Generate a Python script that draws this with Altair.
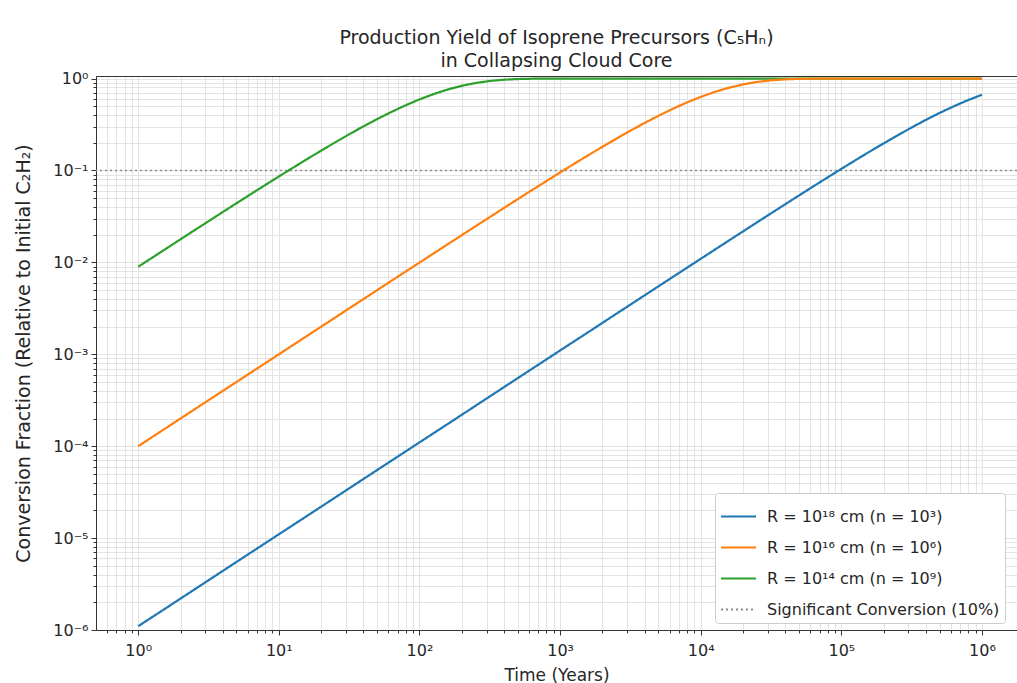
import altair as alt
import pandas as pd

# ---- data ----
time_years = [1, 1.585, 2.512, 3.981, 6.310, 10, 15.85, 25.12, 39.81, 63.10,
              100, 158.5, 251.2, 398.1, 631.0, 1000, 1585, 2512, 3981, 6310,
              10000, 15850, 25120, 39810, 63100, 100000, 158500, 251200, 398100, 631000,
              1000000]

yield_r18 = [1.1e-6, 1.74e-6, 2.76e-6, 4.38e-6, 6.94e-6, 1.1e-5, 1.74e-5, 2.76e-5, 4.38e-5, 6.94e-5,
             1.1e-4, 1.74e-4, 2.76e-4, 4.38e-4, 6.94e-4, 1.10e-3, 1.74e-3, 2.76e-3, 4.37e-3, 6.92e-3,
             0.01094, 0.01728, 0.02725, 0.04285, 0.0671, 0.1042, 0.160, 0.241, 0.355, 0.500,
             0.667]
yield_r16 = [1.0e-4, 1.585e-4, 2.512e-4, 3.981e-4, 6.31e-4, 9.99e-4, 1.584e-3, 2.509e-3, 3.973e-3, 6.29e-3,
             0.00995, 0.01572, 0.02481, 0.03903, 0.06115, 0.0952, 0.1466, 0.2221, 0.3284, 0.4679,
             0.6321, 0.7950, 0.9189, 0.9813, 0.9982, 0.99995, 1.0, 1.0, 1.0, 1.0,
             1.0]
yield_r14 = [0.00896, 0.01416, 0.02236, 0.0352, 0.0552, 0.0861, 0.1329, 0.2023, 0.3011, 0.4333,
             0.5934, 0.7597, 0.8957, 0.9722, 0.9966, 0.99988, 1.0, 1.0, 1.0, 1.0,
             1.0, 1.0, 1.0, 1.0, 1.0, 1.0, 1.0, 1.0, 1.0, 1.0,
             1.0]

# extra readings along the bends of each curve
bend_t_r18 = [125893, 199526, 316228, 501187, 794328]
bend_y_r18 = [0.1293, 0.1971, 0.2938, 0.4238, 0.5826]
bend_t_r16 = [3162, 5012, 7943, 12589, 19953, 31623, 50119, 79433]
bend_y_r16 = [0.2711, 0.3942, 0.5481, 0.7160, 0.8640, 0.9577, 0.9933, 0.99965]
bend_t_r14 = [31.62, 50.12, 79.43, 125.9, 199.5, 316.2, 501.2, 794.3]
bend_y_r14 = [0.2477, 0.3631, 0.5108, 0.6779, 0.8340, 0.9419, 0.9890, 0.9992]

series_names = ["R = 10¹⁸ cm (n = 10³)", "R = 10¹⁶ cm (n = 10⁶)", "R = 10¹⁴ cm (n = 10⁹)"]
threshold_name = "Significant Conversion (10%)"
threshold_value = [0.1]

series_colors = ["#1f77b4", "#ff7f0e", "#2ca02c"]
threshold_color = "#8c8c8c"

x_major = [1, 10, 100, 1000, 10000, 100000, 1000000]
x_labels = ["10⁰", "10¹", "10²", "10³", "10⁴", "10⁵", "10⁶"]
y_major = [1e-6, 1e-5, 1e-4, 1e-3, 1e-2, 1e-1, 1]
y_labels = ["10⁻⁶", "10⁻⁵", "10⁻⁴", "10⁻³", "10⁻²", "10⁻¹", "10⁰"]

x_domain = [0.5012, 1.774e6]
y_domain = [1e-6, 1.067]

# ---- build tables ----
rows = []
series_data = [
    (yield_r18, bend_t_r18, bend_y_r18),
    (yield_r16, bend_t_r16, bend_y_r16),
    (yield_r14, bend_t_r14, bend_y_r14),
]
for name, (ys, bt, by) in zip(series_names, series_data):
    for t, v in list(zip(time_years, ys)) + list(zip(bt, by)):
        rows.append({"t": t, "v": v, "series": name})
lines_df = pd.DataFrame(rows).sort_values(["series", "t"])
thr_df = pd.DataFrame({"v": threshold_value, "series": [threshold_name]})

x_minor = [round(m * 10 ** e, 6) for e in range(-1, 7) for m in range(2, 10)
           if x_domain[0] <= m * 10 ** e <= x_domain[1]]
y_minor = [float(f"{m}e{e}") for e in range(-6, 1) for m in range(2, 10)
           if y_domain[0] <= m * 10 ** e <= y_domain[1]]
x_ticks = sorted(x_major + x_minor)
y_ticks = sorted(y_major + y_minor)


def label_expr(vals, labels):
    parts = [f"abs(datum.value - {v}) < {v * 1e-6} ? '{l}'" for v, l in zip(vals, labels)]
    return " : ".join(parts) + " : ''"


def major_test(vals):
    return " || ".join(f"abs(datum.value - {v}) < {v * 1e-6}" for v in vals)


domain_all = series_names + [threshold_name]
color_scale = alt.Scale(domain=domain_all, range=series_colors + [threshold_color])
dash_scale = alt.Scale(domain=domain_all, range=[[1, 0], [1, 0], [1, 0], [2, 3]])

legend = alt.Legend(
    title=None, orient="none", legendX=619, legendY=417,
    symbolType="stroke", symbolSize=1225, symbolStrokeWidth=2,
    labelFontSize=16, labelFont="DejaVu Sans", labelColor="#262626",
    rowPadding=4, labelOffset=10, padding=5,
    strokeColor="#cccccc", fillColor="white", cornerRadius=3,
    labelLimit=400,
)

x_axis = alt.Axis(
    values=x_ticks, labelExpr=label_expr(x_major, x_labels), title="Time (Years)",
    grid=True, gridColor="#dddddd", gridWidth=0.8,
    tickSize={"condition": {"test": major_test(x_major), "value": 5}, "value": 3},
    tickColor="#333333", domainColor="#333333", labelFontSize=16, titleFontSize=17,
    labelFont="DejaVu Sans", titleFont="DejaVu Sans", labelColor="#262626", titleColor="#262626",
    labelPadding=7, titlePadding=9, labelFlush=False, labelOverlap=False, titleFontWeight="normal",
)
y_axis = alt.Axis(
    values=y_ticks, labelExpr=label_expr(y_major, y_labels),
    title="Conversion Fraction (Relative to Initial C₂H₂)",
    grid=True, gridColor="#dddddd", gridWidth=0.8,
    tickSize={"condition": {"test": major_test(y_major), "value": 5}, "value": 3},
    tickColor="#333333", domainColor="#333333", labelFontSize=16, titleFontSize=19,
    labelFont="DejaVu Sans", titleFont="DejaVu Sans", labelColor="#262626", titleColor="#262626",
    labelPadding=3, titlePadding=19, labelFlush=False, labelOverlap=False, titleFontWeight="normal",
)

x_scale = alt.Scale(type="log", domain=x_domain, nice=False)
y_scale = alt.Scale(type="log", domain=y_domain, nice=False)

lines = alt.Chart(lines_df).mark_line(strokeWidth=2.2, clip=True).encode(
    x=alt.X("t:Q", scale=x_scale, axis=x_axis),
    y=alt.Y("v:Q", scale=y_scale, axis=y_axis),
    color=alt.Color("series:N", scale=color_scale, legend=legend, sort=domain_all),
    strokeDash=alt.StrokeDash("series:N", scale=dash_scale, legend=legend, sort=domain_all),
)

thr = alt.Chart(thr_df).mark_rule(strokeWidth=1.7).encode(
    y=alt.Y("v:Q", scale=y_scale),
    color=alt.Color("series:N", scale=color_scale, legend=legend, sort=domain_all),
    strokeDash=alt.StrokeDash("series:N", scale=dash_scale, legend=legend, sort=domain_all),
)

top_spine = alt.Chart(lines_df).mark_line(opacity=0).encode(
    x=alt.X("t:Q", scale=x_scale, axis=alt.Axis(orient="top", labels=False, ticks=False,
                                                 grid=False, title=None, domainColor="#333333")),
    y=alt.Y("v:Q", scale=y_scale),
    detail="series:N",
)

chart = alt.layer(thr, lines, top_spine).resolve_axis(x="independent").properties(
    width=921, height=554,
    title=alt.Title(
        ["Production Yield of Isoprene Precursors (C₅Hₙ)", "in Collapsing Cloud Core"],
        fontSize=19, font="DejaVu Sans", fontWeight="normal", color="#262626",
        anchor="middle", offset=0, lineHeight=23,
    ),
    autosize=alt.AutoSizeParams(type="none"),
    padding={"left": 96, "top": 76, "right": 0, "bottom": 53},
).configure_view(stroke=None).configure(background="white")

chart.save("out.html", embed_options={"renderer": "svg", "actions": False})
